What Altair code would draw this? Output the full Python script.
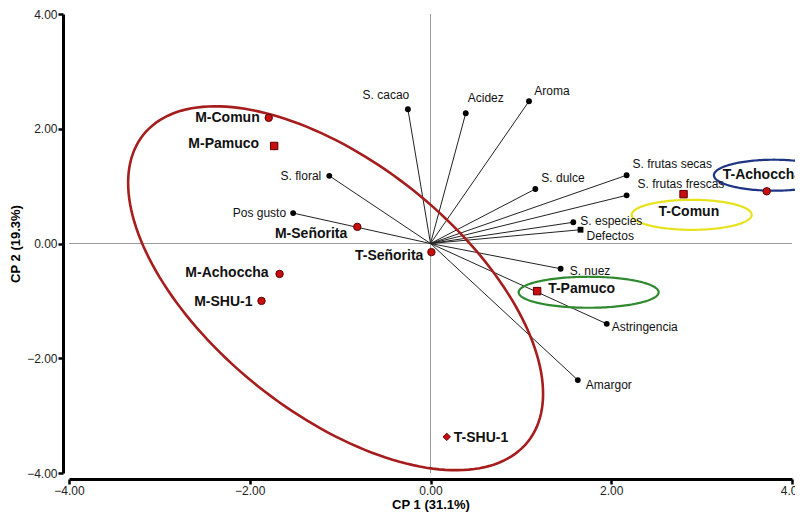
import numpy as np
import pandas as pd
import altair as alt

# ---- Samples (scores) ----
sample_names = ["M-Comun", "M-Pamuco", "M-Señorita", "T-Señorita", "M-Achoccha",
                "M-SHU-1", "T-SHU-1", "T-Pamuco", "T-Comun", "T-Achoccha"]
sample_x = [-1.79, -1.73, -0.81, 0.01, -1.67, -1.87, 0.18, 1.18, 2.80, 3.72]
sample_y = [2.19, 1.70, 0.29, -0.15, -0.53, -1.00, -3.37, -0.83, 0.86, 0.91]
sample_shape = ["circle", "square", "circle", "circle", "circle",
                "circle", "diamond", "square", "square", "circle"]

# ---- Variables (loadings) ----
var_names = ["S. cacao", "Acidez", "Aroma", "S. floral", "Pos gusto", "S. dulce",
             "S. frutas secas", "S. frutas frescas", "S. especies", "Defectos",
             "S. nuez", "Astringencia", "Amargor"]
var_x = [-0.25, 0.39, 1.09, -1.12, -1.52, 1.16, 2.17, 2.17, 1.58, 1.66, 1.44, 1.95, 1.63]
var_y = [2.34, 2.27, 2.48, 1.18, 0.53, 0.95, 1.19, 0.84, 0.37, 0.24, -0.44, -1.40, -2.38]
var_shape = ["circle"] * 9 + ["square"] + ["circle"] * 3

tick_values = [-4, -2, 0, 2, 4]

# ---- layout (label offsets in px, alignment) ----
W, H = 723, 459
PX = W / 8.0
PY = H / 8.0
sample_dx = [-9, -15, -10, -8, -11, -9, 7, 11, -25, -44]
sample_dy = [0, -2, 7, 4, -1, 1, 1, -2, 18, -16]
sample_align = ["right"] * 6 + ["left"] * 4
var_dx = [-22, 20, 23, -8, -7, 6, 6, 11, 7, 6, 9, 5, 8]
var_dy = [-14, -15, -10, 0, 0, -11, -11, -11, -1, 6, 2, 3, 5]
var_align = ["center"] * 3 + ["right"] * 2 + ["left"] * 8

# ellipses: centre (data), semi-axes (px), angle (deg, screen), colour
ell_cx = [-1.05, 2.89, 1.75, 3.80]
ell_cy = [-0.78, 0.50, -0.85, 1.19]
ell_a = [246, 60, 70, 60]
ell_b = [125, 15, 15.5, 15.5]
ell_ang = [38.6, 0, 0, 0]
ell_col = ["#a51d1d", "#e6e21c", "#2f8a2f", "#1d3584"]

FONT = "Liberation Sans"

xs = alt.Scale(domain=[-4, 4], nice=False, zero=False)
ys = alt.Scale(domain=[-4, 4], nice=False, zero=False)
common_ax = dict(values=tick_values, format=".2f", grid=False, offset=6,
                 domainColor="black", domainWidth=3, tickColor="black", tickWidth=2.5,
                 tickSize=5, labelFontSize=12, labelColor="#222", labelFont=FONT,
                 titleFont=FONT, titleFontSize=13, titleFontWeight="bold",
                 titleColor="black", labelFlush=False, labelPadding=1)
xax = alt.Axis(title="CP 1 (31.1%)", titlePadding=2, **common_ax)
yax = alt.Axis(title="CP 2 (19.3%)", titlePadding=4, **common_ax)


def X(f):
    return alt.X(f, type="quantitative", scale=xs, axis=xax)


def Y(f):
    return alt.Y(f, type="quantitative", scale=ys, axis=yax)


samples = pd.DataFrame({"name": sample_names, "x": sample_x, "y": sample_y, "shape": sample_shape})
variables = pd.DataFrame({"name": var_names, "x": var_x, "y": var_y, "shape": var_shape})
variables["x0"] = 0.0
variables["y0"] = 0.0

slab = pd.DataFrame({
    "name": sample_names,
    "lx": [x + dx / PX for x, dx in zip(sample_x, sample_dx)],
    "ly": [y - dy / PY for y, dy in zip(sample_y, sample_dy)],
    "align": sample_align,
})
vlab = pd.DataFrame({
    "name": var_names,
    "lx": [x + dx / PX for x, dx in zip(var_x, var_dx)],
    "ly": [y - dy / PY for y, dy in zip(var_y, var_dy)],
    "align": var_align,
})

# reference axes lines
ref = pd.DataFrame({"x": [0, -4], "y": [-4, 0], "x2": [0, 4], "y2": [4, 0]})
ref_layer = alt.Chart(ref).mark_rule(color="#9a9a9a", strokeWidth=1).encode(
    x=X("x"), y=Y("y"), x2=alt.X2("x2"), y2=alt.Y2("y2"))

spokes = alt.Chart(variables).mark_rule(color="#222", strokeWidth=1).encode(
    x=X("x0"), y=Y("y0"), x2=alt.X2("x"), y2=alt.Y2("y"))

# ellipses
rows = []
t = np.linspace(0, 2 * np.pi, 181)
for i in range(len(ell_cx)):
    th = np.deg2rad(ell_ang[i])
    dxp = ell_a[i] * np.cos(t) * np.cos(th) - ell_b[i] * np.sin(t) * np.sin(th)
    dyp = ell_a[i] * np.cos(t) * np.sin(th) + ell_b[i] * np.sin(t) * np.cos(th)
    for k in range(len(t)):
        rows.append({"id": i, "k": k, "x": ell_cx[i] + dxp[k] / PX, "y": ell_cy[i] - dyp[k] / PY})
ell = pd.DataFrame(rows)
ell_layers = []
for i in range(len(ell_cx)):
    ell_layers.append(
        alt.Chart(ell[ell["id"] == i]).mark_line(color=ell_col[i], strokeWidth=2.6 if i == 0 else 2.2).encode(
            x=X("x"), y=Y("y"), order="k:Q"))

var_pts = alt.Chart(variables).mark_point(filled=True, color="black", size=34, opacity=1).encode(
    x=X("x"), y=Y("y"), shape=alt.Shape("shape:N", scale=None))

sample_pts = alt.Chart(samples).mark_point(filled=True, fill="#c80f0f", stroke="#5a0000",
                                           strokeWidth=1, size=55, opacity=1).encode(
    x=X("x"), y=Y("y"), shape=alt.Shape("shape:N", scale=None))

text_layers = []
for al in ["left", "right", "center"]:
    sub = vlab[vlab["align"] == al]
    if len(sub):
        text_layers.append(alt.Chart(sub).mark_text(align=al, baseline="middle", font=FONT,
                                                    fontSize=12, color="#111").encode(
            x=X("lx"), y=Y("ly"), text="name:N"))
    sub = slab[slab["align"] == al]
    if len(sub):
        text_layers.append(alt.Chart(sub).mark_text(align=al, baseline="middle", font=FONT,
                                                    fontSize=14, fontWeight="bold", color="#111").encode(
            x=X("lx"), y=Y("ly"), text="name:N"))

chart = alt.layer(ref_layer, spokes, *ell_layers, var_pts, sample_pts, *text_layers).properties(
    width=W, height=H,
    autosize=alt.AutoSizeParams(type="none"),
    padding={"left": 61, "top": 6, "right": 3, "bottom": 40},
).configure_view(stroke=None)

chart.save("out.html", embed_options={"renderer": "svg", "actions": False})
